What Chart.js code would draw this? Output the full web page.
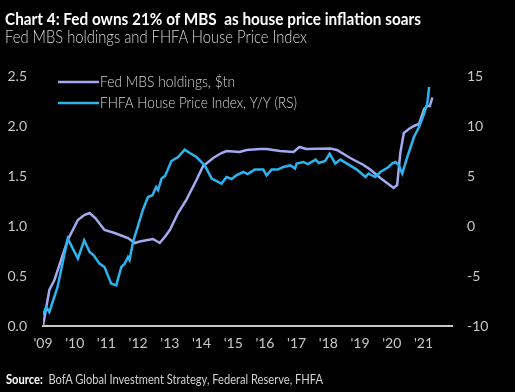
<!DOCTYPE html>
<html><head><meta charset="utf-8">
<script src="https://cdn.jsdelivr.net/npm/chart.js@4"></script>
<style>
html,body{margin:0;padding:0;background:#000;}
#wrap{position:relative;width:515px;height:392px;background:#000;overflow:hidden;}
canvas{position:absolute;left:0;top:0;}
.t{position:absolute;white-space:nowrap;transform-origin:0 0;font-family:Lato,"Open Sans",sans-serif;}
</style></head>
<body>
<div id="wrap">
<canvas id="c" width="515" height="392"></canvas>
<div class="t" id="title" data-w="416" style="left:5px;top:8px;font-size:17px;font-weight:700;color:#fff;">Chart 4: Fed owns 21% of MBS&nbsp; as house price inflation soars</div>
<div class="t" id="sub" data-w="302" style="left:5px;top:26px;font-size:17px;font-weight:300;color:#d8d8d8;">Fed MBS holdings and FHFA House Price Index</div>
<div class="t" id="src" data-w="317" style="left:6px;top:371px;font-size:13px;color:#d0d0d0;"><b style="color:#fff">Source:</b>&nbsp; BofA Global Investment Strategy, Federal Reserve, FHFA</div>
</div>
<script>
// ---- data ----
const mbsDates = [2009.0, 2009.2, 2009.36, 2009.78, 2010.1, 2010.3, 2010.47, 2010.65, 2010.94, 2011.26,
  2011.68, 2011.9, 2012.05, 2012.3, 2012.47, 2012.68, 2012.84, 2013.0, 2013.26, 2013.52,
  2013.84, 2014.05, 2014.37, 2014.63, 2014.79, 2015.2, 2015.42, 2015.84, 2016.05, 2016.47,
  2016.9, 2017.09, 2017.3, 2018.06, 2018.27, 2018.69, 2019.11, 2019.32, 2019.64, 2019.85,
  2020.06, 2020.17, 2020.27, 2020.38, 2020.54, 2020.7, 2020.86, 2021.02, 2021.12, 2021.2, 2021.28];
const mbsValues = [0.0, 0.36, 0.46, 0.86, 1.06, 1.11, 1.13, 1.08, 0.96, 0.93,
  0.88, 0.83, 0.845, 0.86, 0.87, 0.83, 0.89, 0.96, 1.13, 1.26,
  1.46, 1.60, 1.68, 1.73, 1.75, 1.74, 1.76, 1.77, 1.77, 1.75,
  1.74, 1.79, 1.77, 1.775, 1.76, 1.68, 1.61, 1.565, 1.48, 1.43,
  1.38, 1.41, 1.73, 1.93, 1.97, 2.0, 2.02, 2.17, 2.20, 2.20, 2.285];
const hpiDates = [2009.0, 2009.1, 2009.2, 2009.46, 2009.78, 2010.1, 2010.3, 2010.47, 2010.6, 2010.78,
  2010.94, 2011.15, 2011.31, 2011.47, 2011.57, 2011.68, 2011.73, 2011.84, 2012.15, 2012.31,
  2012.45, 2012.57, 2012.63, 2012.74, 2012.85, 2013.05, 2013.26, 2013.47, 2013.63, 2013.84,
  2014.1, 2014.32, 2014.63, 2014.79, 2014.95, 2015.1, 2015.32, 2015.45, 2015.68, 2015.95,
  2016.05, 2016.21, 2016.4, 2016.58, 2016.8, 2016.95, 2017.0, 2017.22, 2017.35, 2017.6,
  2017.7, 2017.9, 2018.04, 2018.22, 2018.38, 2018.59, 2018.9, 2019.17, 2019.27, 2019.35,
  2019.48, 2019.64, 2019.9, 2020.01, 2020.12, 2020.22, 2020.33, 2020.49, 2020.7, 2020.86,
  2021.02, 2021.12, 2021.18];
const hpiValues = [-8.9, -8.1, -8.6, -6.1, -1.26, -3.26, -1.43, -2.6, -2.93, -3.76,
  -4.1, -5.76, -5.93, -4.1, -3.8, -3.1, -3.4, -1.6, 1.6, 2.9,
  3.07, 3.9, 3.6, 4.74, 5.0, 6.5, 6.9, 7.64, 7.3, 6.9,
  6.07, 4.74, 4.24, 4.9, 4.7, 5.07, 5.4, 5.2, 5.64, 5.64,
  5.07, 5.64, 5.64, 5.9, 6.07, 5.74, 6.24, 6.4, 6.2, 6.64,
  6.3, 6.5, 7.24, 6.24, 6.64, 6.24, 5.64, 4.9, 5.24, 5.1,
  4.9, 5.4, 5.9, 6.24, 6.4, 6.1, 5.24, 6.9, 8.9, 9.9,
  11.24, 12.24, 13.9];
const yearTicks = [2009, 2010, 2011, 2012, 2013, 2014, 2015, 2016, 2017, 2018, 2019, 2020, 2021];
const yearLabels = ["'09", "'10", "'11", "'12", "'13", "'14", "'15", "'16", "'17", "'18", "'19", "'20", "'21"];
const leftTicks = [0, 0.5, 1.0, 1.5, 2.0, 2.5];
const rightTicks = [-10, -5, 0, 5, 10, 15];
const seriesNames = ["Fed MBS holdings, $tn", "FHFA House Price Index, Y/Y (RS)"];

// fit text widths
document.querySelectorAll('.t').forEach(el => {
  const w = el.getBoundingClientRect().width;
  const target = +el.dataset.w;
  el.style.transform = 'scaleX(' + (target / w) + ')';
});

const MBS_COLOR = '#a3aaf0';
const HPI_COLOR = '#2ab4f0';
const TICK_COLOR = '#c8c8c8';
const FONT = 'Lato, "Open Sans", sans-serif';

const legendPlugin = {
  id: 'customLegend',
  afterDraw(chart) {
    const ctx = chart.ctx;
    const items = [
      {label: seriesNames[0], color: MBS_COLOR, y: 82, w: 135},
      {label: seriesNames[1], color: HPI_COLOR, y: 103, w: 197}
    ];
    ctx.save();
    items.forEach(it => {
      ctx.strokeStyle = it.color;
      ctx.lineWidth = 2.5;
      ctx.beginPath();
      ctx.moveTo(58, it.y);
      ctx.lineTo(99, it.y);
      ctx.stroke();
      ctx.font = '300 16px ' + FONT;
      ctx.fillStyle = '#d8d8d8';
      ctx.textBaseline = 'middle';
      const mw = ctx.measureText(it.label).width;
      ctx.save();
      ctx.translate(100, it.y);
      ctx.scale(it.w / mw, 1);
      ctx.fillText(it.label, 0, 0);
      ctx.restore();
    });
    ctx.restore();
  }
};

const toPts = (xs, ys) => xs.map((x, i) => ({x: x, y: ys[i]}));

new Chart(document.getElementById('c'), {
  type: 'line',
  data: {
    datasets: [
      {label: seriesNames[0], data: toPts(mbsDates, mbsValues), yAxisID: 'y', borderColor: MBS_COLOR,
       borderWidth: 2.5, pointRadius: 0, tension: 0, order: 2},
      {label: seriesNames[1], data: toPts(hpiDates, hpiValues), yAxisID: 'y1', borderColor: HPI_COLOR,
       borderWidth: 2.5, pointRadius: 0, tension: 0, order: 1}
    ]
  },
  options: {
    responsive: false,
    animation: false,
    events: [],
    layout: {padding: {top: 76, left: 0, right: 0, bottom: 0}},
    plugins: {legend: {display: false}, tooltip: {enabled: false}, title: {display: false}},
    scales: {
      x: {
        type: 'linear', min: 2009, max: 2021.9,
        afterBuildTicks: s => { s.ticks = yearTicks.map(v => ({value: v})); },
        afterFit: s => { s.height = 66; },
        ticks: {color: TICK_COLOR, font: {family: FONT, size: 14}, padding: 9, maxRotation: 0,
                callback: (v) => yearLabels[yearTicks.indexOf(v)]},
        grid: {display: false, drawTicks: false},
        border: {display: true, color: '#c8c8c8', width: 2}
      },
      y: {
        position: 'left', min: 0, max: 2.5,
        afterBuildTicks: s => { s.ticks = leftTicks.map(v => ({value: v})); },
        afterFit: s => { s.width = 43; },
        ticks: {color: TICK_COLOR, font: {family: FONT, size: 14}, padding: 16,
                callback: v => v.toFixed(1)},
        grid: {display: false, drawTicks: false},
        border: {display: false}
      },
      y1: {
        position: 'right', min: -10, max: 15,
        afterBuildTicks: s => { s.ticks = rightTicks.map(v => ({value: v})); },
        afterFit: s => { s.width = 63; },
        ticks: {color: TICK_COLOR, font: {family: FONT, size: 14}, padding: 15,
                callback: v => String(v)},
        grid: {display: false, drawTicks: false},
        border: {display: false}
      }
    }
  },
  plugins: [legendPlugin]
});
</script>
</body></html>
